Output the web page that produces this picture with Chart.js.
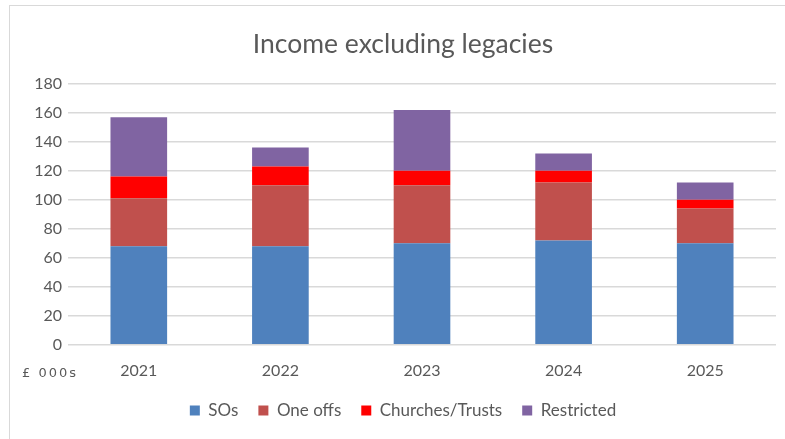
<!DOCTYPE html>
<html>
<head>
<meta charset="utf-8">
<script src="https://cdn.jsdelivr.net/npm/chart.js@4/dist/chart.umd.min.js"></script>
<style>
  html, body { margin: 0; padding: 0; background: #fff; overflow: hidden; }
  #wrap { position: relative; width: 785px; height: 439px; }
  #frame { position: absolute; left: 9px; top: 5px; width: 800px; height: 460px; border: 1px solid #d9d9d9; box-sizing: border-box; }
  #units { position: absolute; left: 22px; top: 365px; font: 13px "DejaVu Sans", sans-serif; color: #595959; letter-spacing: 2px; }
</style>
</head>
<body>
<div id="wrap">
  <div id="frame"></div>
  <canvas id="chart" width="785" height="439"></canvas>
  <div id="units">£ 000s</div>
</div>
<script>
// values in £ 000s
var years = ['2021', '2022', '2023', '2024', '2025'];
var sos = [68, 68, 70, 72, 70];
var oneOffs = [33, 42, 40, 40, 24];
var churchesTrusts = [15, 13, 10, 8, 6];
var restricted = [41, 13, 42, 12, 12];
var yTicks = [0, 20, 40, 60, 80, 100, 120, 140, 160, 180];

var textColor = '#595959';
var fontFamily = 'Lato, "Open Sans", sans-serif';

function makeSet(label, data, color) {
  return {
    label: label,
    data: data,
    backgroundColor: color,
    borderWidth: 0,
    categoryPercentage: 1,
    barPercentage: 0.4
  };
}

var ctx = document.getElementById('chart').getContext('2d');
window.incomeChart = new Chart(ctx, {
  type: 'bar',
  data: {
    labels: years,
    datasets: [
      makeSet('SOs', sos, '#4F81BD'),
      makeSet('One offs', oneOffs, '#C0504D'),
      makeSet('Churches/Trusts', churchesTrusts, '#FF0000'),
      makeSet('Restricted', restricted, '#8064A2')
    ]
  },
  options: {
    responsive: false,
    animation: false,
    layout: {
      // left padding keeps title/legend centred on the frame
      padding: { left: 30, right: 9, top: 0, bottom: 10 }
    },
    plugins: {
      title: {
        display: true,
        text: 'Income excluding legacies',
        color: textColor,
        font: { family: fontFamily, size: 26.5, weight: 'normal' },
        padding: { top: 29, bottom: 23 }
      },
      legend: {
        position: 'bottom',
        labels: {
          color: textColor,
          font: { family: fontFamily, size: 17 },
          boxWidth: 10,
          boxHeight: 10,
          padding: 20
        }
      },
      tooltip: { enabled: false }
    },
    scales: {
      x: {
        stacked: true,
        afterFit: function(scale) { scale.height -= 6; },
        grid: { display: false },
        border: { display: false },
        ticks: {
          color: textColor,
          font: { family: fontFamily, size: 16 },
          padding: 8
        }
      },
      y: {
        stacked: true,
        min: 0,
        max: 180,
        afterBuildTicks: function(scale) {
          scale.ticks = yTicks.map(function(v) { return { value: v }; });
        },
        afterFit: function(scale) { scale.width = 38; },
        grid: { color: '#d9d9d9', lineWidth: 1.5, drawTicks: false },
        border: { display: false },
        ticks: {
          color: textColor,
          font: { family: fontFamily, size: 16 },
          padding: 6
        }
      }
    }
  }
});
</script>
</body>
</html>
